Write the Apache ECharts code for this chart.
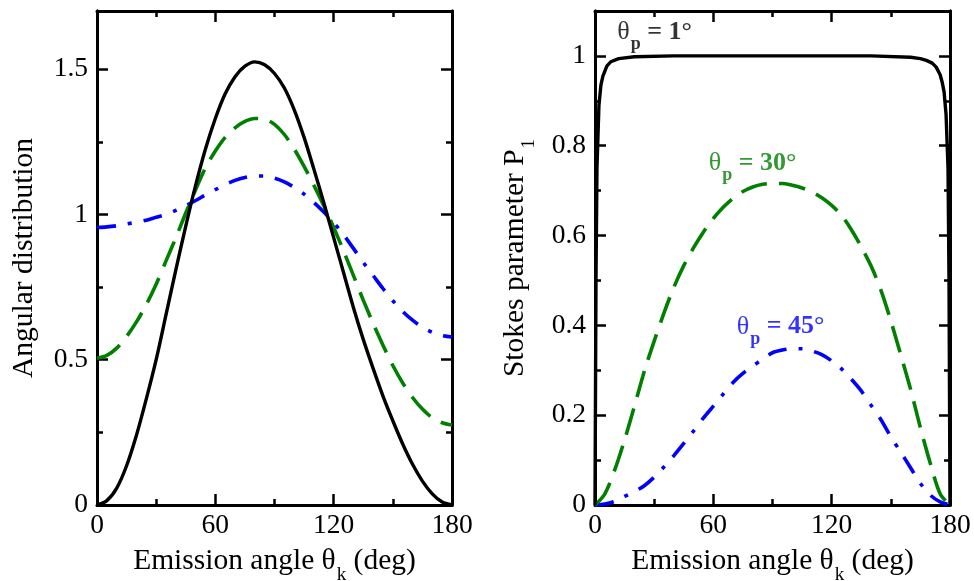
<!DOCTYPE html>
<html><head><meta charset="utf-8">
<script src="https://cdn.jsdelivr.net/npm/echarts/dist/echarts.min.js"></script>
<style>html,body{margin:0;padding:0;background:#fff}#c{width:974px;height:581px}</style>
</head><body><div id="c"></div>
<script>
// ---------- data ----------
const angleTicks = [0, 60, 120, 180];

// Left panel: angular distribution, sampled every 5 deg
const angles5 = [0,5,10,15,20,25,30,35,40,45,50,55,60,65,70,75,80,85,90,95,100,105,110,115,120,125,130,135,140,145,150,155,160,165,170,175,180];
const distTheta1  = [0,0.015,0.058,0.135,0.24,0.365,0.50,0.655,0.81,0.96,1.10,1.225,1.33,1.415,1.474,1.51,1.525,1.515,1.485,1.435,1.36,1.265,1.155,1.04,0.92,0.80,0.68,0.57,0.47,0.375,0.29,0.21,0.14,0.082,0.038,0.01,0];
const distTheta30 = [0.505,0.515,0.54,0.58,0.63,0.69,0.76,0.84,0.92,1.005,1.085,1.16,1.218,1.265,1.298,1.32,1.33,1.328,1.31,1.275,1.225,1.165,1.10,1.03,0.955,0.875,0.79,0.705,0.625,0.55,0.48,0.42,0.37,0.33,0.30,0.283,0.275];
const distTheta45 = [0.955,0.957,0.961,0.967,0.973,0.98,0.99,1.0,1.014,1.03,1.048,1.067,1.085,1.102,1.117,1.127,1.132,1.132,1.125,1.112,1.093,1.07,1.041,1.008,0.972,0.93,0.883,0.835,0.79,0.745,0.703,0.666,0.636,0.612,0.594,0.583,0.578];

// Right panel: Stokes parameter P1
const p1AnglesTheta1 = [0,0.5,1,2,3,4,6,8,12,20,40,60,90,120,140,160,165,168,171,173,175,176,177,178,179,179.5,180];
const p1Theta1 = [0,0.5,0.75,0.89,0.935,0.955,0.977,0.987,0.994,0.998,1.0,1.0,1.0,1.0,1.0,0.997,0.994,0.99,0.984,0.975,0.958,0.942,0.92,0.87,0.75,0.5,0];
const p1Theta30 = [0,0.025,0.078,0.145,0.22,0.298,0.365,0.428,0.485,0.533,0.573,0.608,0.638,0.663,0.683,0.698,0.708,0.714,0.716,0.716,0.712,0.706,0.697,0.684,0.667,0.645,0.613,0.575,0.532,0.478,0.41,0.335,0.258,0.172,0.093,0.025,0];
const p1Theta45 = [0,0.002,0.008,0.019,0.03,0.043,0.062,0.085,0.11,0.137,0.165,0.194,0.22,0.247,0.273,0.293,0.309,0.325,0.339,0.345,0.348,0.348,0.343,0.335,0.321,0.303,0.28,0.254,0.222,0.19,0.152,0.118,0.083,0.048,0.022,0.007,0];

// annotation anchors (data coordinates of right panel)
const annText  = ['1°', '30°', '45°'];
const annTheta = [30.2, 79.9, 94.1];
const annP1    = [1.053, 0.762, 0.397];

// ---------- styling ----------
const FONT = 'Liberation Serif';
const BLACK = '#000000', GREEN = '#008000', BLUE = '#0000ff';
const pairs = (xs, ys) => xs.map((x, i) => [x, ys[i]]);

const richName = {
  m: { fontFamily: FONT, fontSize: 29.5, color: BLACK },
  s: { fontFamily: FONT, fontSize: 19, color: BLACK, padding: [28, 0, 0, 1] }
};

function xAxesFor(g) {
  const common = {
    type: 'value', gridIndex: g, min: 0, max: 180, interval: 60,
    axisLine: { onZero: false, lineStyle: { color: BLACK, width: 3 } },
    axisTick: { inside: true, length: 11, lineStyle: { color: BLACK, width: 2.5 } },
    minorTick: { show: true, splitNumber: 2, length: 6, lineStyle: { color: BLACK, width: 2.5 } },
    splitLine: { show: false }, minorSplitLine: { show: false }
  };
  return [
    Object.assign({}, common, {
      position: 'bottom',
      axisLabel: { fontFamily: FONT, fontSize: 27.5, color: BLACK, margin: 7 },
      name: '{m|Emission angle θ}{s|k}{m| (deg)}',
      nameLocation: 'middle', nameGap: 33,
      nameTextStyle: { rich: richName }
    }),
    Object.assign({}, common, { position: 'top', axisLabel: { show: false } })
  ];
}

function yAxesFor(g, max, major, minor, name, nameGap) {
  const base = {
    type: 'value', gridIndex: g, min: 0, max: max,
    axisLine: { onZero: false, lineStyle: { color: BLACK, width: 3 } },
    splitLine: { show: false }
  };
  const majorAx = Object.assign({}, base, {
    interval: major,
    axisTick: { inside: true, length: 11, lineStyle: { color: BLACK, width: 2.5 } }
  });
  const minorAx = Object.assign({}, base, {
    interval: minor,
    axisTick: { inside: true, length: 6, lineStyle: { color: BLACK, width: 2.5 } },
    axisLabel: { show: false }
  });
  return [
    Object.assign({}, majorAx, {
      position: 'left',
      axisLabel: { fontFamily: FONT, fontSize: 27.5, color: BLACK, margin: 9, showMaxLabel: false },
      name: name, nameLocation: 'middle', nameGap: nameGap,
      nameTextStyle: { rich: richName }
    }),
    Object.assign({}, minorAx, { position: 'left' }),
    Object.assign({}, majorAx, { position: 'right', axisLabel: { show: false } }),
    Object.assign({}, minorAx, { position: 'right' })
  ];
}

function lineSeries(xi, yi, data, color, dash, width, smooth) {
  return {
    type: 'line', xAxisIndex: xi, yAxisIndex: yi, data: data,
    showSymbol: false, symbol: 'none', smooth: smooth, silent: true,
    lineStyle: { color: color, width: width, type: dash, cap: 'butt' },
    z: 3
  };
}

const annColors = [BLACK, GREEN, BLUE];
const annSeries = annText.map((t, i) => ({
  type: 'scatter', xAxisIndex: 2, yAxisIndex: 4, symbolSize: 0, silent: true,
  data: [[annTheta[i], annP1[i]]],
  label: {
    show: true, position: 'inside',
    formatter: '{t|θ}{s|p}{b| = ' + t + '}',
    rich: {
      t: { fontFamily: FONT, fontSize: 26, color: annColors[i] },
      s: { fontFamily: FONT, fontSize: 18, fontWeight: 'bold', color: annColors[i], padding: [25, 0, 0, 1] },
      b: { fontFamily: FONT, fontSize: 26, fontWeight: 'bold', color: annColors[i] }
    }
  },
  z: 5
}));

const option = {
  backgroundColor: '#ffffff',
  animation: false,
  grid: [
    { left: 97, top: 11, width: 355, height: 494, outerBoundsMode: 'none', containLabel: false },
    { left: 595, top: 11, width: 355, height: 494, outerBoundsMode: 'none', containLabel: false }
  ],
  xAxis: [].concat(xAxesFor(0), xAxesFor(1)),
  yAxis: [].concat(
    yAxesFor(0, 1.7, 0.5, 0.25, '{m|Angular distribution}', 58),
    yAxesFor(1, 1.1, 0.2, 0.1, '{m|Stokes parameter P}{s|1}', 56)
  ),
  series: [
    lineSeries(0, 0, pairs(angles5, distTheta45), BLUE, [19, 12, 4, 12], 3.6, 0.3),
    lineSeries(0, 0, pairs(angles5, distTheta30), GREEN, [27, 12], 3.6, 0.3),
    lineSeries(0, 0, pairs(angles5, distTheta1), BLACK, 'solid', 3.4, 0.3),
    lineSeries(2, 4, pairs(angles5, p1Theta45), BLUE, [19, 12, 4, 12], 3.6, 0.3),
    lineSeries(2, 4, pairs(angles5, p1Theta30), GREEN, [27, 12], 3.6, 0.3),
    lineSeries(2, 4, pairs(p1AnglesTheta1, p1Theta1), BLACK, 'solid', 3.4, false)
  ].concat(annSeries)
};

const chart = echarts.init(document.getElementById('c'), null, { renderer: 'canvas' });
chart.setOption(option);
</script></body></html>
